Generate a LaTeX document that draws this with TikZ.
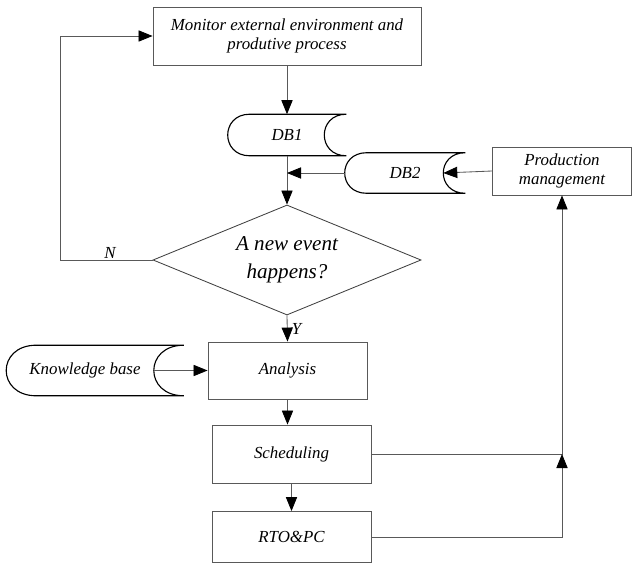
\documentclass[tikz,border=0pt]{standalone}
\usepackage{fontspec}
\setmainfont{Liberation Serif}
\usepackage{tikz}
\usetikzlibrary{shapes.geometric,arrows.meta,positioning,calc}

% stored-data outline round node #1, curve depth #2
\newcommand{\dbedge}[2]{%
  \draw[dbline] (#1.north east) -- ([xshift=#2]#1.north west)
    .. controls ([xshift=-#2/3]#1.north west) and ([xshift=-#2/3]#1.south west) .. ([xshift=#2]#1.south west)
    -- (#1.south east)
    .. controls ([xshift=-4*#2/3]#1.south east) and ([xshift=-4*#2/3]#1.north east) .. (#1.north east);}

\begin{document}
\begin{tikzpicture}[
  x=0.025cm, y=-0.025cm,
  font=\itshape\fontsize{12}{13.5}\selectfont,
  box/.style={rectangle, draw=black!65, line width=0.6pt, align=center, inner sep=2pt},
  decision/.style={diamond, draw=black!75, line width=0.6pt, align=center, inner sep=0pt,
                   aspect=2.4, minimum width=6.7cm, minimum height=2.75cm,
                   font=\itshape\fontsize{15}{20}\selectfont},
  db/.style={inner sep=0pt, align=center},
  dbline/.style={draw=black, line width=0.8pt},
  arr/.style={-{Triangle[length=0.35cm,width=0.28cm,color=black]}, draw=black!65, line width=0.6pt}
]
\useasboundingbox (0,0) rectangle (632,565);

\node[box, minimum width=6.7cm, minimum height=1.45cm] (monitor) at (287,36) {Monitor external environment and\\produtive process};
\node[db, minimum width=2.95cm, minimum height=1.025cm] (db1) at (287,135) {DB1};
\node[db, minimum width=3cm, minimum height=1cm] (db2) at (405,173) {DB2};
\node[box, minimum width=3.475cm, minimum height=1.2cm] (prod) at (562,171) {Production\\management};
\node[decision] (event) at (287,260) {A new event\\happens?};
\node[box, minimum width=3.975cm, minimum height=1.425cm] (analysis) at (287.5,370.5) {Analysis};
\node[db, minimum width=4.425cm, minimum height=1.25cm] (kb) at (95,370.5) {Knowledge base\hspace{0.5cm}};
\node[box, minimum width=3.975cm, minimum height=1.45cm] (sched) at (291.5,454) {Scheduling};
\node[box, minimum width=3.975cm, minimum height=1.275cm] (rto) at (291.5,537) {RTO\&PC};

\dbedge{db1}{0.55cm}
\dbedge{db2}{0.55cm}
\dbedge{kb}{0.75cm}

\coordinate (loop) at (60,260);
\coordinate (meet) at (prod.south |- sched.east);

\draw[arr] (monitor) -- (db1);
\draw[arr] (db1.south) -- (event.north);
\draw[arr] (db2.west) -- (db2.west -| db1.south);
\draw[arr] (prod.west) -- ([xshift=-0.55cm]db2.east);
\draw[arr] (event.west) -- node[pos=0.46, above, inner sep=1pt] {N} (loop) |- (monitor.west);
\draw[arr] (event.south) -- node[right, inner sep=3pt] {Y} (analysis.north);
\draw[arr] ([xshift=-0.75cm]kb.east) -- (analysis.west);
\draw[arr] (analysis.south) -- (analysis.south |- sched.north);
\draw[arr] (sched.south) -- (sched.south |- rto.north);
\draw[arr] (sched.east) -| (prod.south);
\draw[arr] (rto.east) -| (meet);
\end{tikzpicture}
\end{document}
